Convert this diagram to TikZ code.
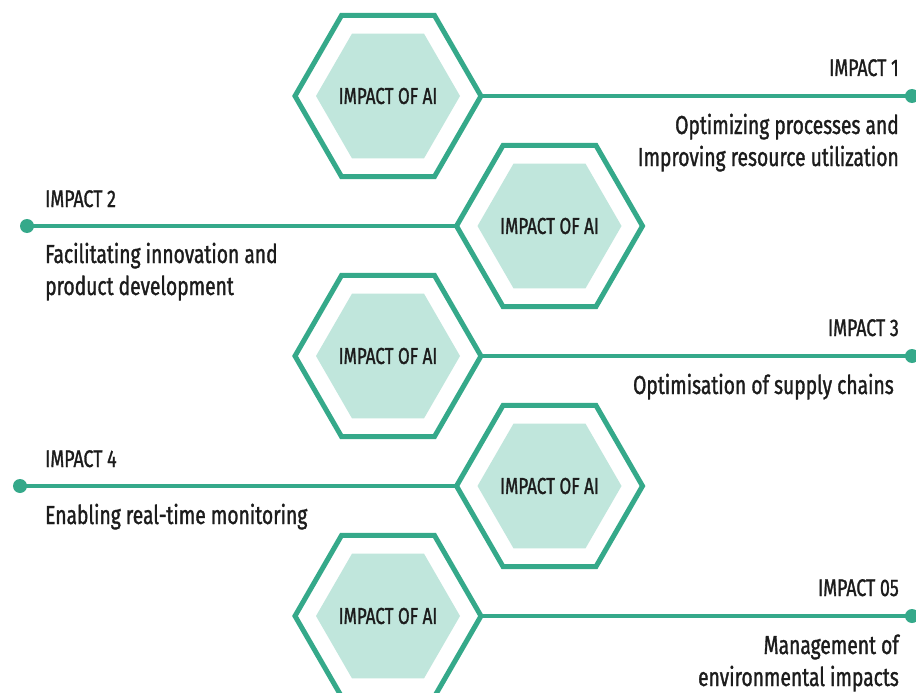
\documentclass[tikz,border=0pt]{standalone}
\usepackage{fontspec}
\setmainfont{Fira Sans}[FakeStretch=0.74, FakeBold=1.2]
\usetikzlibrary{shapes.geometric}
\definecolor{hexline}{HTML}{35A98A}
\definecolor{hexfill}{HTML}{C0E6DC}
\definecolor{ink}{HTML}{1C1C1C}
\begin{document}
\begin{tikzpicture}[x=1pt,y=-1pt,
  outerhex/.style={regular polygon, regular polygon sides=6, minimum size=186pt,
    inner sep=0pt, outer sep=0pt, draw=hexline, line width=5pt, fill=white},
  hextext/.style={inner sep=0pt, text=ink, font=\fontsize{23}{23}\selectfont},
  dot/.style={circle, fill=hexline, minimum size=14pt, inner sep=0pt},
  link/.style={draw=hexline, line width=3.5pt},
  tag/.style={inner sep=0pt, text=ink, font=\fontsize{24}{24}\selectfont},
  desc/.style={inner sep=0pt, text=ink, font=\fontsize{26}{32}\selectfont}]
\useasboundingbox[fill=white] (0,0) rectangle (916,693);

% connector end points
\node[dot] (d1) at (912,96) {};
\node[dot] (d2) at (27,226) {};
\node[dot] (d3) at (912,356) {};
\node[dot] (d4) at (20,486) {};
\node[dot] (d5) at (912,616) {};

% hexagons, alternating between two columns
\node[outerhex] (h1) at (388,96) {};
\node[outerhex] (h2) at (549.5,226) {};
\node[outerhex] (h3) at (388,356) {};
\node[outerhex] (h4) at (549.5,486) {};
\node[outerhex] (h5) at (388,616) {};

% filled inner hexagons
\foreach \h in {h1,h2,h3,h4,h5}
  \fill[hexfill] (\h.center) +(0:72) -- +(60:72) -- +(120:72) -- +(180:72)
    -- +(240:72) -- +(300:72) -- cycle;

\node[hextext] (i1) at (h1.center) {IMPACT OF AI};
\node[hextext] (i2) at (h2.center) {IMPACT OF AI};
\node[hextext] (i3) at (h3.center) {IMPACT OF AI};
\node[hextext] (i4) at (h4.center) {IMPACT OF AI};
\node[hextext] (i5) at (h5.center) {IMPACT OF AI};

% connectors
\draw[link] (h1.east) -- (d1.center);
\draw[link] (d2.center) -- (h2.west);
\draw[link] (h3.east) -- (d3.center);
\draw[link] (d4.center) -- (h4.west);
\draw[link] (h5.east) -- (d5.center);

% labels and descriptions (multi-line nodes sit on their last baseline)
\node[tag, anchor=base east] (t1) at (899,76) {IMPACT 1};
\node[desc, anchor=base east, align=right] (e1) at (899,166)
  {Optimizing processes and\\Improving resource utilization};
\node[tag, anchor=base west] (t2) at (45,207) {IMPACT 2};
\node[desc, anchor=base west, align=left] (e2) at (45,295)
  {Facilitating innovation and\\product development};
\node[tag, anchor=base east] (t3) at (899,336) {IMPACT 3};
\node[desc, anchor=base east, align=right] (e3) at (894,394)
  {Optimisation of supply chains};
\node[tag, anchor=base west] (t4) at (45,467) {IMPACT 4};
\node[desc, anchor=base west, align=left] (e4) at (45,524)
  {Enabling real-time monitoring};
\node[tag, anchor=base east] (t5) at (899,596) {IMPACT 05};
\node[desc, anchor=base east, align=right] (e5) at (899,686)
  {Management of\\environmental impacts};
\end{tikzpicture}
\end{document}
